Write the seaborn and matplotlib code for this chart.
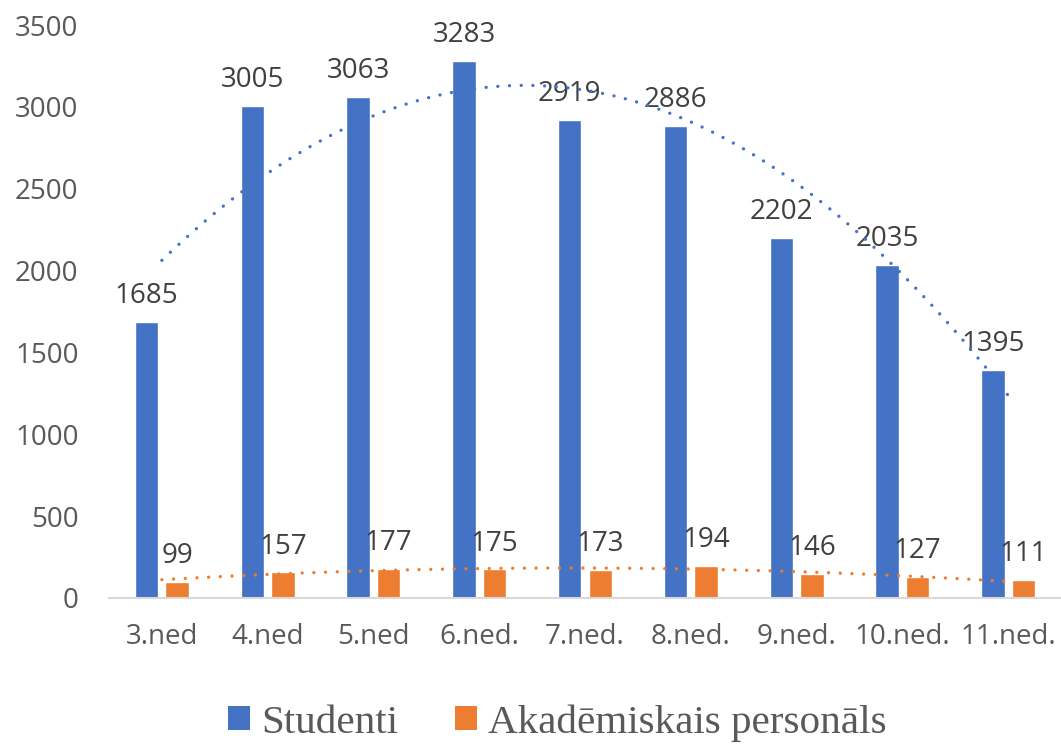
import numpy as np
import pandas as pd
import seaborn as sns
import matplotlib
matplotlib.use("Agg")
import matplotlib.pyplot as plt
from matplotlib.patches import Patch

weeks = ["3.ned", "4.ned", "5.ned", "6.ned.", "7.ned.", "8.ned.", "9.ned.", "10.ned.", "11.ned."]
studenti = [1685, 3005, 3063, 3283, 2919, 2886, 2202, 2035, 1395]
akademiskais = [99, 157, 177, 175, 173, 194, 146, 127, 111]
series_names = ["Studenti", "Akadēmiskais personāls"]
colors = ["#4472C4", "#ED7D31"]
yticks = [0, 500, 1000, 1500, 2000, 2500, 3000, 3500]

sns.set_style("white")
plt.rcParams["font.family"] = ["Open Sans", "DejaVu Sans"]

df = pd.DataFrame({
    "week": weeks * 2,
    "value": studenti + akademiskais,
    "series": [series_names[0]] * len(weeks) + [series_names[1]] * len(weeks),
})

fig = plt.figure(figsize=(10.61, 7.46), dpi=100)
ax = fig.add_axes([109 / 1061, 1 - 598 / 746, 1 - 109 / 1061, (598 - 25) / 746])

sns.barplot(data=df, x="week", y="value", hue="series", order=weeks,
            hue_order=series_names, palette=colors, width=0.577, gap=0.23,
            saturation=1, legend=False, ax=ax, errorbar=None)

# value labels
for cont in ax.containers:
    for p in cont.patches:
        h = p.get_height()
        ax.annotate(f"{int(round(h))}", (p.get_x() + p.get_width() / 2, h),
                    xytext=(0, 13.5), textcoords="offset points",
                    ha="center", va="baseline", fontsize=20, color="#404040",
                    zorder=2)

# polynomial (order 2) trendlines
xpos = np.arange(len(weeks))
for vals, c in zip([studenti, akademiskais], colors):
    sns.regplot(x=xpos, y=np.array(vals, dtype=float), order=2, ci=None,
                scatter=False, ax=ax, truncate=True,
                line_kws=dict(color=c, lw=2.4, ls=(0, (0.01, 3.5)),
                              dash_capstyle="round", zorder=4))

ax.set_xlim(-0.5, len(weeks) - 0.5)
ax.set_ylim(0, 3500)
ax.set_yticks(yticks)
ax.set_yticklabels([str(t) for t in yticks])
ax.set_xlabel("")
ax.set_ylabel("")
for s in ["top", "right", "left"]:
    ax.spines[s].set_visible(False)
ax.spines["bottom"].set_color("#D9D9D9")
ax.spines["bottom"].set_linewidth(1.5)
ax.tick_params(axis="y", length=0, pad=22, labelsize=20, labelcolor="#595959")
ax.tick_params(axis="x", length=0, pad=18, labelsize=20, labelcolor="#595959")
ax.grid(False)

handles = [Patch(facecolor=c, edgecolor="none") for c in colors]
fig.legend(handles, series_names, loc="center", bbox_to_anchor=(0.5255, 0.031),
           ncol=2, frameon=False, handlelength=0.535, handleheight=0.535,
           handletextpad=0.27, columnspacing=1.39, borderpad=0, borderaxespad=0,
           prop={"family": "Liberation Serif", "size": 29.6},
           labelcolor="#595959")

fig.savefig("out.png", dpi=100)
